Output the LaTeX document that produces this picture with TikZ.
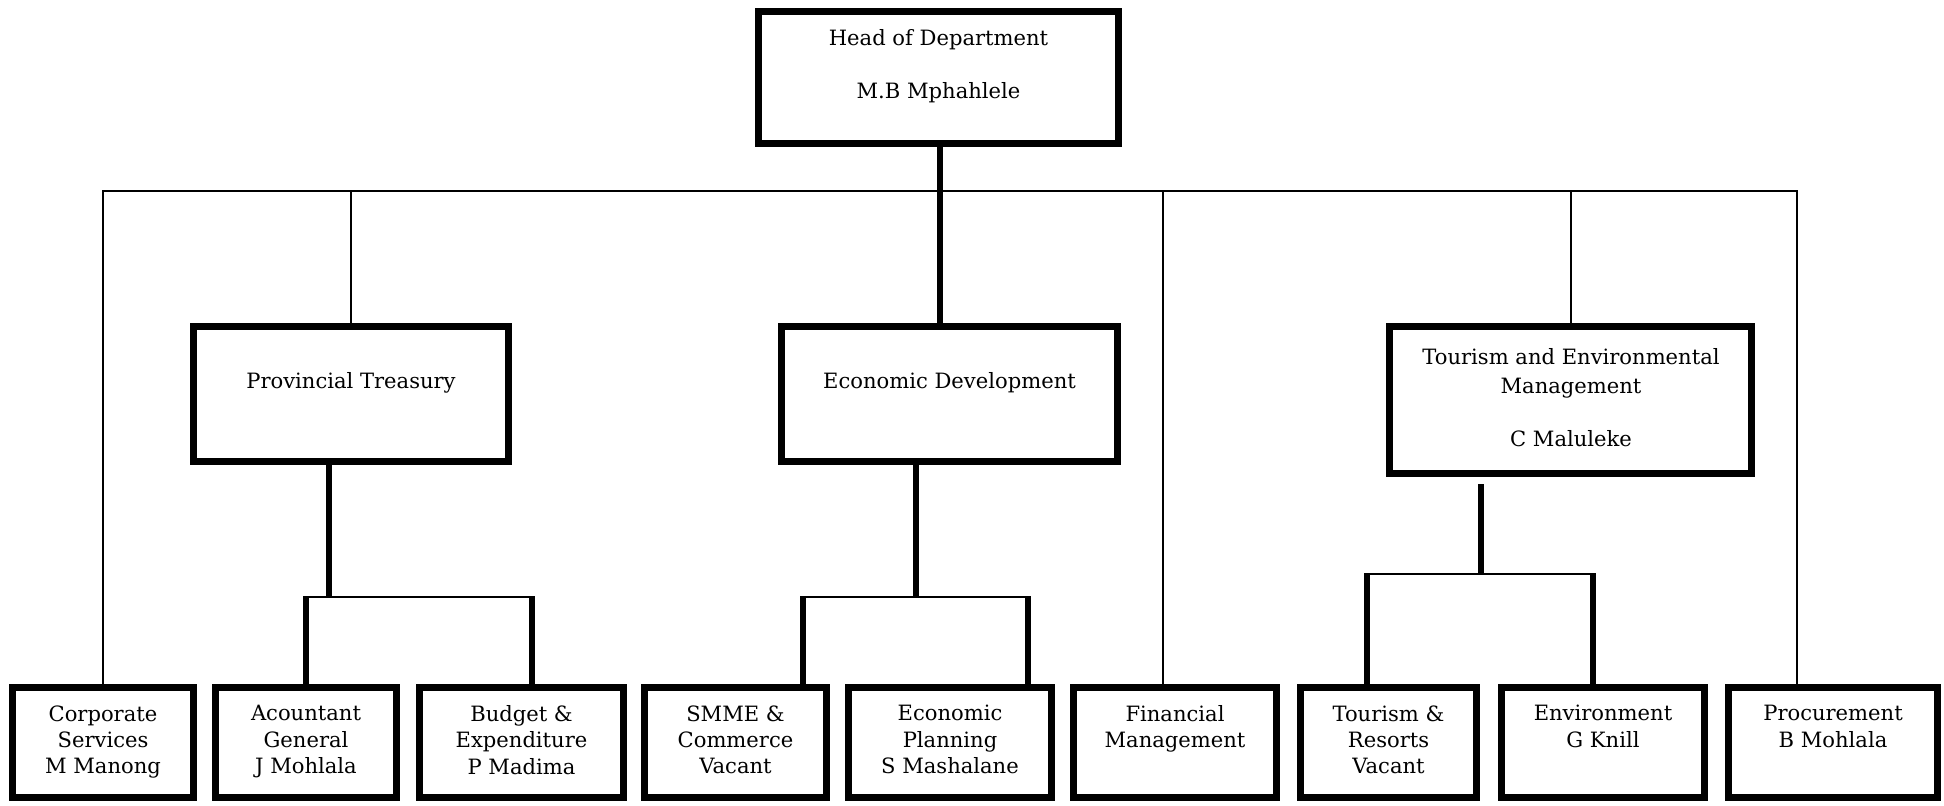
\documentclass[tikz,border=0pt]{standalone}
\usepackage{fontspec}
\setmainfont{DejaVu Serif}

\begin{document}
\begin{tikzpicture}[x = 0.02cm, y = -0.02cm,
                    thinline/.style  = {line width = 1.1pt},
                    thickline/.style = {line width = 3pt},
                    deptbox/.style   = {draw, line width = 4pt, inner sep = 0pt, outer sep = 0pt},
                    unitbox/.style   = {deptbox, minimum height = 2.2cm},
                    boxtext/.style   = {anchor = north, align = center, inner sep = 0pt,
                                        font = \fontsize{12}{15}\selectfont}]
        \useasboundingbox (0,0) rectangle (1944,805);

        % top level
        \node [deptbox, minimum width = 7.2cm, minimum height = 2.64cm] (HOD) at (938.5,77.5) {};
        \node [boxtext] (HODt) at (938.5,29) {Head of Department\\[15pt] M.B Mphahlele};

        % branches
        \node [deptbox, minimum width = 6.3cm, minimum height = 2.7cm] (PT) at (351,394) {};
        \node [boxtext] (PTt) at (351,372) {Provincial Treasury};
        \node [deptbox, minimum width = 6.72cm, minimum height = 2.7cm] (ED) at (949.5,394) {};
        \node [boxtext] (EDt) at (949.5,372) {Economic Development};
        \node [deptbox, minimum width = 7.24cm, minimum height = 2.94cm] (TEM) at (1570.5,400) {};
        \node [boxtext] (TEMt) at (1571,348) {Tourism and Environmental\\[1.5pt]Management\\[15pt] C Maluleke};

        % units
        \node [unitbox, minimum width = 3.62cm] (CS) at (103,742.5) {};
        \node [boxtext] (CSt) at (103,705) {Corporate\\Services\\M Manong};
        \node [unitbox, minimum width = 3.62cm] (AG) at (306,742.5) {};
        \node [boxtext] (AGt) at (306,705) {Acountant\\General\\J Mohlala};
        \node [unitbox, minimum width = 4.08cm] (BE) at (521.5,742.5) {};
        \node [boxtext] (BEt) at (521.5,705) {Budget \&\\Expenditure\\P Madima};
        \node [unitbox, minimum width = 3.64cm] (SMME) at (735.5,742.5) {};
        \node [boxtext] (SMMEt) at (735.5,705) {SMME \&\\Commerce\\Vacant};
        \node [unitbox, minimum width = 4.06cm] (EP) at (950,742.5) {};
        \node [boxtext] (EPt) at (950,705) {Economic\\Planning\\S Mashalane};
        \node [unitbox, minimum width = 4.06cm] (FM) at (1175,742.5) {};
        \node [boxtext] (FMt) at (1175,705) {Financial\\Management};
        \node [unitbox, minimum width = 3.52cm] (TR) at (1388.5,742.5) {};
        \node [boxtext] (TRt) at (1388.5,705) {Tourism \&\\Resorts\\Vacant};
        \node [unitbox, minimum width = 4.06cm] (ENV) at (1603,742.5) {};
        \node [boxtext] (ENVt) at (1603,705) {Environment\\G Knill};
        \node [unitbox, minimum width = 4.18cm] (PROC) at (1833,742.5) {};
        \node [boxtext] (PROCt) at (1833,705) {Procurement\\B Mohlala};

        % junctions
        \coordinate (Jcs)   at (103,191);
        \coordinate (Jpt)   at (351,191);
        \coordinate (Jhod)  at (940,191);
        \coordinate (Jfm)   at (1163,191);
        \coordinate (Jtem)  at (1571,191);
        \coordinate (Jproc) at (1797,191);
        \coordinate (Kpt)   at (329,597);
        \coordinate (Kag)   at (306,597);
        \coordinate (Kbe)   at (532,597);
        \coordinate (Ked)   at (916,597);
        \coordinate (Ksmme) at (803,597);
        \coordinate (Kep)   at (1028,597);
        \coordinate (Ktop)  at (1481,484);
        \coordinate (Ktem)  at (1481,574);
        \coordinate (Ktr)   at (1367,574);
        \coordinate (Kenv)  at (1593,574);

        \draw [thinline] (CS.north) -- (Jcs) -- (Jproc) -- (Jproc |- PROC.north);
        \draw [thinline] (Jpt) -- (PT.north);
        \draw [thinline] (Jfm) -- (Jfm |- FM.north);
        \draw [thinline] (Jtem) -- (Jtem |- TEM.north);
        \draw [thickline] (Jhod |- HOD.south) -- (Jhod |- ED.north);

        \draw [thickline] (Kpt |- PT.south) -- (Kpt);
        \draw [thinline, shorten <= -1.5pt, shorten >= -1.5pt] (Kag) -- (Kbe);
        \draw [thickline] (Kag) -- (Kag |- AG.north);
        \draw [thickline] (Kbe) -- (Kbe |- BE.north);

        \draw [thickline] (Ked |- ED.south) -- (Ked);
        \draw [thinline, shorten <= -1.5pt, shorten >= -1.5pt] (Ksmme) -- (Kep);
        \draw [thickline] (Ksmme) -- (Ksmme |- SMME.north);
        \draw [thickline] (Kep) -- (Kep |- EP.north);

        \draw [thickline] (Ktop) -- (Ktem);
        \draw [thinline, shorten <= -1.5pt, shorten >= -1.5pt] (Ktr) -- (Kenv);
        \draw [thickline] (Ktr) -- (Ktr |- TR.north);
        \draw [thickline] (Kenv) -- (Kenv |- ENV.north);
\end{tikzpicture}
\end{document}
